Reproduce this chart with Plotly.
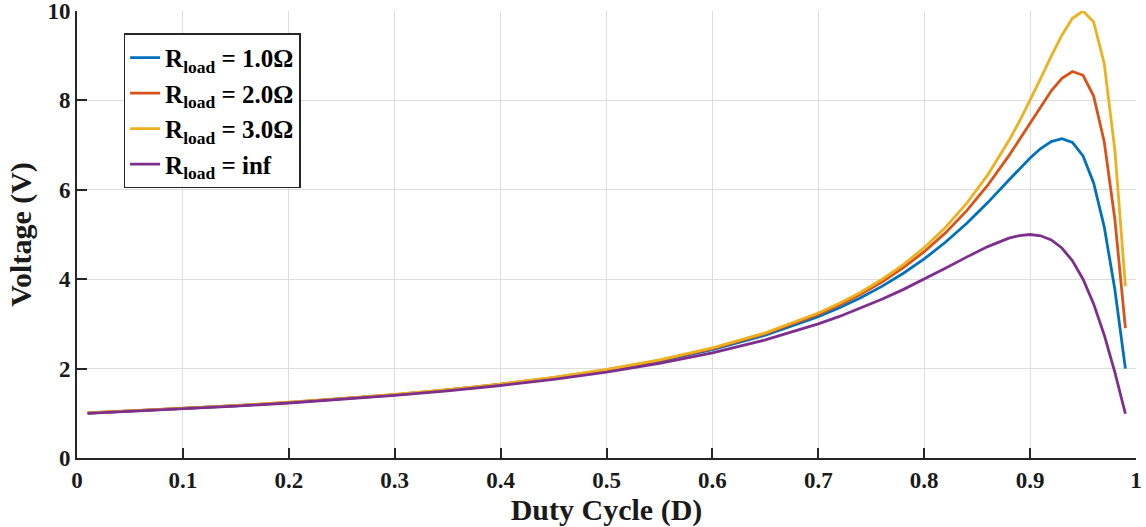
import plotly.graph_objects as go

duty = [0.01, 0.05, 0.10, 0.15, 0.20, 0.25, 0.30, 0.35, 0.40, 0.45, 0.50, 0.55,
        0.60, 0.65, 0.70, 0.72, 0.74, 0.76, 0.78, 0.80, 0.82, 0.84, 0.86, 0.88,
        0.89, 0.90, 0.91, 0.92, 0.93, 0.94, 0.95, 0.96, 0.97, 0.98, 0.99]

v_r1 = [1.005, 1.047, 1.104, 1.169, 1.240, 1.322, 1.414, 1.521, 1.644, 1.789, 1.962, 2.170,
        2.426, 2.747, 3.161, 3.361, 3.586, 3.840, 4.128, 4.454, 4.826, 5.246, 5.714, 6.218,
        6.471, 6.711, 6.923, 7.080, 7.143, 7.059, 6.757, 6.154, 5.172, 3.774, 2.000]

v_r2 = [1.007, 1.049, 1.107, 1.171, 1.244, 1.325, 1.419, 1.526, 1.651, 1.798, 1.974, 2.186,
        2.449, 2.781, 3.214, 3.425, 3.665, 3.938, 4.252, 4.615, 5.036, 5.529, 6.103, 6.764,
        7.124, 7.496, 7.867, 8.214, 8.495, 8.646, 8.562, 8.097, 7.075, 5.348, 2.907]

v_r3 = [1.008, 1.050, 1.108, 1.172, 1.245, 1.327, 1.421, 1.529, 1.655, 1.803, 1.980, 2.195,
        2.462, 2.800, 3.243, 3.461, 3.709, 3.993, 4.322, 4.706, 5.158, 5.694, 6.335, 7.101,
        7.534, 8.000, 8.491, 8.989, 9.459, 9.836, 10.000, 9.756, 8.824, 6.897, 3.846]

v_inf = [1.000, 1.041, 1.098, 1.160, 1.231, 1.310, 1.400, 1.503, 1.622, 1.760, 1.923, 2.118,
         2.353, 2.642, 3.000, 3.167, 3.351, 3.550, 3.767, 4.000, 4.245, 4.494, 4.730, 4.918,
         4.977, 5.000, 4.972, 4.878, 4.698, 4.412, 4.000, 3.448, 2.752, 1.923, 0.990]

names = ["R<sub>load</sub> = 1.0Ω", "R<sub>load</sub> = 2.0Ω",
         "R<sub>load</sub> = 3.0Ω", "R<sub>load</sub> = inf"]
colors = ["#0072BD", "#D95319", "#EDB120", "#7E2F8E"]
series = [v_r1, v_r2, v_r3, v_inf]

x_ticks = [0, 0.1, 0.2, 0.3, 0.4, 0.5, 0.6, 0.7, 0.8, 0.9, 1]
x_ticktext = ["0", "0.1", "0.2", "0.3", "0.4", "0.5", "0.6", "0.7", "0.8", "0.9", "1"]
y_ticks = [0, 2, 4, 6, 8, 10]

FONT = "Liberation Serif"

fig = go.Figure()
for name, col, ys in zip(names, colors, series):
    fig.add_trace(go.Scatter(x=duty, y=ys, mode="lines", name=name,
                             line=dict(color=col, width=2.8), cliponaxis=False))

axis_common = dict(
    showline=True, linecolor="#262626", linewidth=2,
    ticks="inside", ticklen=10, tickwidth=2, tickcolor="#262626",
    showgrid=True, gridcolor="#dddddd", gridwidth=1,
    zeroline=False, mirror=False, ticklabeloverflow="allow", automargin=False,
    tickfont=dict(family=FONT, size=23, color="#1a1a1a", weight="bold"),
)

fig.update_layout(
    width=1146, height=527,
    margin=dict(l=77, r=10, t=11, b=69),
    paper_bgcolor="white", plot_bgcolor="white",
    xaxis=dict(range=[0, 1], tickvals=x_ticks, ticktext=x_ticktext,
               title=dict(text="Duty Cycle (D)", standoff=5,
                          font=dict(family=FONT, size=30, color="#1a1a1a", weight="bold")),
               **axis_common),
    yaxis=dict(range=[0, 10.0005], tickvals=y_ticks,
               title=dict(text="Voltage (V)", standoff=7,
                          font=dict(family=FONT, size=30, color="#1a1a1a", weight="bold")),
               **axis_common),
    legend=dict(x=0.044, y=0.95, xanchor="left", yanchor="top",
                bgcolor="white", bordercolor="#262626", borderwidth=1.5,
                font=dict(family=FONT, size=25, color="#000000", weight="bold"),
                itemwidth=30, tracegroupgap=0),
    showlegend=True,
)

fig.write_html("out.html")
